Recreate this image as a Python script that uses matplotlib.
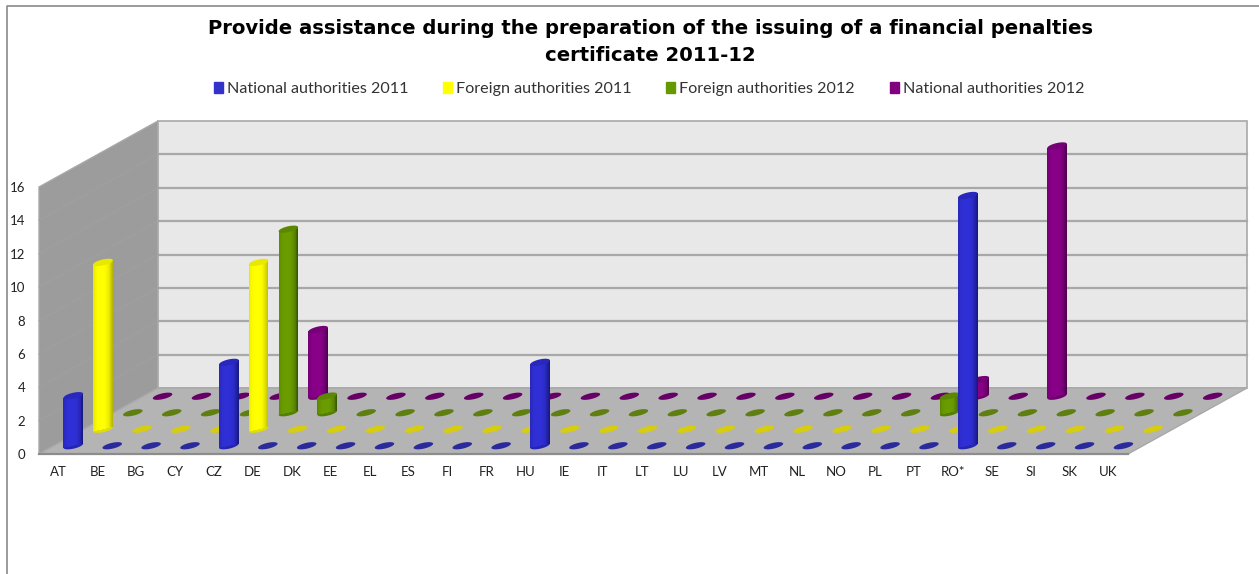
import numpy as np
import matplotlib
matplotlib.use('Agg')
import matplotlib.pyplot as plt
from matplotlib.lines import Line2D
from matplotlib.patches import Patch, Polygon

categories = ['AT', 'BE', 'BG', 'CY', 'CZ', 'DE', 'DK', 'EE', 'EL', 'ES', 'FI', 'FR', 'HU', 'IE',
              'IT', 'LT', 'LU', 'LV', 'MT', 'NL', 'NO', 'PL', 'PT', 'RO*', 'SE', 'SI', 'SK', 'UK']

national_2011 = [3, 0, 0, 0, 5, 0, 0, 0, 0, 0, 0, 0, 5, 0, 0, 0, 0, 0, 0, 0, 0, 0, 0, 15, 0, 0, 0, 0]
foreign_2011 = [10, 0, 0, 0, 10, 0, 0, 0, 0, 0, 0, 0, 0, 0, 0, 0, 0, 0, 0, 0, 0, 0, 0, 0, 0, 0, 0, 0]
foreign_2012 = [0, 0, 0, 0, 11, 1, 0, 0, 0, 0, 0, 0, 0, 0, 0, 0, 0, 0, 0, 0, 0, 1, 0, 0, 0, 0, 0, 0]
national_2012 = [0, 0, 0, 0, 4, 0, 0, 0, 0, 0, 0, 0, 0, 0, 0, 0, 0, 0, 0, 0, 0, 1, 0, 15, 0, 0, 0, 0]

series_names = ['National authorities 2011', 'Foreign authorities 2011',
                'Foreign authorities 2012', 'National authorities 2012']
y_ticks = [0, 2, 4, 6, 8, 10, 12, 14, 16]

# face colour, dark edge of the cylinder, colour of an empty disk
colors = [('#2f2fd6', '#16167a', '#2a2a9c'),
          ('#ffff00', '#b0b000', '#d6cc10'),
          ('#6a9c00', '#345400', '#5f7f10'),
          ('#880088', '#480048', '#660066')]
legend_colors = ['#3333cc', '#ffff00', '#669900', '#800080']

W, H = 1259, 574
LEFT, RIGHT, BOTTOM, TOP = 39, 1128, 454, 187
PX_X = (RIGHT - LEFT) / 28
PX_Y = (BOTTOM - TOP) / 16

# depth of the floor in data units (119 px across, 66 px up)
DX = 119 / PX_X
DY = 66 / PX_Y

# disk shape in pixels: tilted flat ellipse
MAJOR, MINOR, TILT = 10.0, 2.9, np.radians(13)
HALF_PX = np.sqrt((MAJOR * np.cos(TILT)) ** 2 + (MINOR * np.sin(TILT)) ** 2)
SLOPE_PX = (MAJOR ** 2 - MINOR ** 2) * np.sin(TILT) * np.cos(TILT) / HALF_PX ** 2
N_STRIPS = 24

plt.rcParams['font.family'] = ['Lato', 'DejaVu Sans']

fig = plt.figure(figsize=(W / 100, H / 100), dpi=100)
ax = fig.add_axes([LEFT / W, 1 - BOTTOM / H, (RIGHT - LEFT) / W, (BOTTOM - TOP) / H])
ax.set_xlim(0, 28)
ax.set_ylim(0, 16)
ax.patch.set_visible(False)
for s in ax.spines.values():
    s.set_visible(False)


def disk(cx, cy, depth, color, zorder):
    t = np.linspace(0, 2 * np.pi, 60)
    px = MAJOR * np.cos(t) * np.cos(TILT) - MINOR * np.sin(t) * np.sin(TILT)
    py = MAJOR * np.cos(t) * np.sin(TILT) + MINOR * np.sin(t) * np.cos(TILT)
    ax.fill(cx + depth * DX + px / PX_X, cy + depth * DY + py / PX_Y,
            color=color, lw=0, clip_on=False, zorder=zorder)


def cylinder(cx, value, depth, face, dark, zorder):
    half = HALF_PX / PX_X
    slope = SLOPE_PX * PX_X / PX_Y
    edges = np.linspace(-half, half, N_STRIPS + 1)
    face_rgb = np.array(matplotlib.colors.to_rgb(face))
    dark_rgb = np.array(matplotlib.colors.to_rgb(dark))
    disk(cx, 0, depth, tuple(dark_rgb + (face_rgb - dark_rgb) * 0.6), zorder)
    for a, b in zip(edges[:-1], edges[1:]):
        mid = (a + b) / 2 / half
        # flat face, falling off mostly on the right hand side
        if mid > 0:
            k = 1 - mid ** 2.4
        else:
            k = 1 - 0.35 * abs(mid) ** 4
        col = dark_rgb + (face_rgb - dark_rgb) * k
        ax.bar(cx + depth * DX + (a + b) / 2, value, width=(b - a) * 1.15,
               bottom=depth * DY + slope * (a + b) / 2, color=col, lw=0,
               clip_on=False, zorder=zorder)
    disk(cx, value, depth, tuple(dark_rgb + (face_rgb - dark_rgb) * 0.72), zorder)


# walls and floor
left_wall = [(0, 0), (DX, DY), (DX, DY + 16), (0, 16)]
back_wall = [(DX, DY), (28 + DX, DY), (28 + DX, DY + 16), (DX, DY + 16)]
floor = [(0, 0), (28, 0), (28 + DX, DY), (DX, DY)]
ax.add_patch(Polygon(left_wall, fc='#9c9c9c', ec='#a8a8a8', lw=1, clip_on=False, zorder=1))
ax.add_patch(Polygon(back_wall, fc='#e8e8e8', ec='#a8a8a8', lw=1.2, clip_on=False, zorder=1))
ax.add_patch(Polygon(floor, fc='#b4b4b4', ec='#a8a8a8', lw=1, clip_on=False, zorder=1))
ax.plot([0, 28], [0, 0], color='#8c8c8c', lw=1.6, clip_on=False, zorder=2)
for v in y_ticks[1:-1]:
    ax.plot([DX, 28 + DX], [v + DY, v + DY], color='#a8a8a8', lw=1.6, clip_on=False, zorder=2)
    ax.plot([0, DX], [v, v + DY], color='#a0a0a0', lw=0.8, clip_on=False, zorder=2)

# back row first so the front rows cover it
all_series = [national_2011, foreign_2011, foreign_2012, national_2012]
for row in [3, 2, 1, 0]:
    depth = (2 * row + 1) / 8
    face, dark, empty = colors[row]
    for i, value in enumerate(all_series[row]):
        z = 10 + (3 - row) * 100 + i
        if value == 0:
            disk(i + 0.5, 0, depth, empty, z)
        else:
            cylinder(i + 0.5, value, depth, face, dark, z)

ax.set_xticks(np.arange(28) + 0.5, categories)
ax.set_yticks(y_ticks)
ax.tick_params(axis='both', length=0, labelsize=9.5, labelcolor='#222222')
ax.tick_params(axis='x', pad=9)
ax.tick_params(axis='y', pad=10)

# only the top and left edges of the chart frame show
fig.add_artist(Line2D([6.5 / W, 6.5 / W, 1], [0, 1 - 5.5 / H, 1 - 5.5 / H], color='#8a8a8a', lw=1.2))

fig.text(650 / W, 1 - 42 / H, 'Provide assistance during the preparation of the issuing of a financial penalties\ncertificate 2011-12',
         ha='center', va='center', fontsize=14.1, fontweight='bold', family=['DejaVu Sans'],
         linespacing=1.5, color='black')

handles = [Patch(color=c) for c in legend_colors]
fig.legend(handles, series_names, ncol=4, loc='center', bbox_to_anchor=(649 / W, 1 - 89 / H),
           frameon=False, fontsize=11.65, handlelength=0.55, handleheight=0.7, handletextpad=0.25,
           columnspacing=2.15, labelcolor='#333333')

fig.savefig('out.png', dpi=100)
